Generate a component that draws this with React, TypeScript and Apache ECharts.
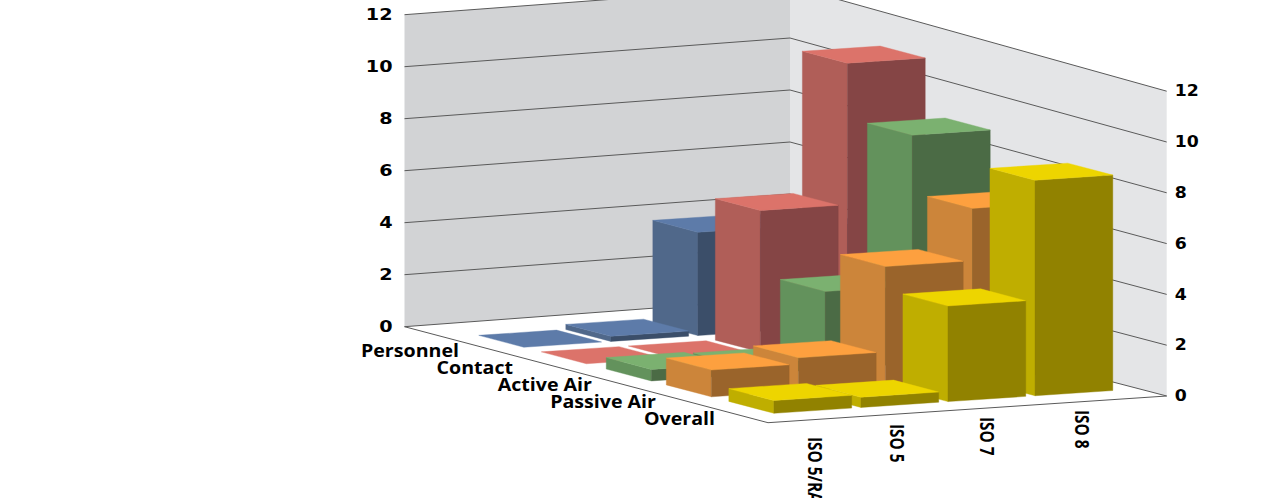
import React, { useEffect, useRef } from "react";
import * as echarts from "echarts";

// Chart content
const categories = ["ISO 5/RA", "ISO 5", "ISO 7", "ISO 8"];
const seriesNames = ["Personnel", "Contact", "Active Air", "Passive Air", "Overall"];
const personnel = [0, 0.2, 4.05, 4];
const contact = [0, 0, 5.55, 11.1];
const activeAir = [0.45, 0.4, 3.05, 8.95];
const passiveAir = [1.05, 1.3, 4.65, 6.7];
const overall = [0.5, 0.4, 3.75, 8.45];
const seriesValues = [personnel, contact, activeAir, passiveAir, overall];
const tickValues = [0, 2, 4, 6, 8, 10, 12];

// Face colours per series: top, left side, front side
const palette = [
  ["#5D7BA9", "#50688A", "#3B4E69"],
  ["#DC736A", "#B05E58", "#854545"],
  ["#7BB170", "#63925C", "#4B6B45"],
  ["#FDA03F", "#CC853A", "#9A642B"],
  ["#EDD500", "#BFAE00", "#918200"],
];

// Oblique projection of the floor plane
const origin = [404.5, 326.7];
const catAxis = [99.7, -6.7];
const rowAxis = [72.7, 19.2];
const unitHeight = 25.5;
const catStart = 0.332;
const catStep = 0.873;
const rowDepths = [1.186, 2.046, 2.94, 3.766, 4.626];
const barWidth = 0.78;
const barDepth = 0.62;

const project = (u: number, d: number, h: number) => [
  origin[0] + u * catAxis[0] + d * rowAxis[0],
  origin[1] + u * catAxis[1] + d * rowAxis[1] - h * unitHeight,
];

// Room corners: left, back, front, right, with the pixel height of one value unit
const cornerLeft = { x: 404.5, y: 326.7, unit: 26 };
const cornerBack = { x: 790, y: 298, unit: 26 };
const cornerFront = { x: 768, y: 422.7 };
const cornerRight = { x: 1166.7, y: 396, unit: 25.4 };

const at = (c: { x: number; y: number; unit: number }, v: number) => [c.x, c.y - v * c.unit];

const seriesLabelPos = [
  [459, 350],
  [513, 367],
  [592, 384],
  [656, 401.5],
  [715, 418],
];
const categoryLabelPos = [
  [815, 437],
  [897, 424],
  [987, 417],
  [1082, 410],
];

const tickFont = 'bold 16px "DejaVu Sans"';
const seriesFont = 'bold 18px "Open Sans"';
const categoryFont = 'bold 19px "Open Sans"';

function roomGraphics() {
  const top = 12;
  const els: any[] = [
    {
      type: "polygon",
      z: 0,
      shape: { points: [at(cornerLeft, 0), at(cornerBack, 0), at(cornerBack, top), at(cornerLeft, top)] },
      style: { fill: "#D2D3D5" },
    },
    {
      type: "polygon",
      z: 0,
      shape: { points: [at(cornerBack, 0), at(cornerRight, 0), at(cornerRight, top), at(cornerBack, top)] },
      style: { fill: "#E4E5E7" },
    },
  ];
  const lineStyle = { stroke: "#5A5A5A", lineWidth: 1, fill: "none" };
  tickValues.forEach((v) => {
    els.push({
      type: "polyline",
      z: 1,
      shape: { points: [at(cornerLeft, v), at(cornerBack, v), at(cornerRight, v)] },
      style: lineStyle,
    });
    const [lx, ly] = at(cornerLeft, v);
    els.push({
      type: "text",
      z: 3,
      x: lx - 12,
      y: ly,
      scaleX: 1.2,
      style: { text: String(v), font: tickFont, fill: "#000", textAlign: "right", textVerticalAlign: "middle" },
    });
    const [rx, ry] = at(cornerRight, v);
    els.push({
      type: "text",
      z: 3,
      x: rx + 8,
      y: ry,
      scaleX: 1.08,
      style: { text: String(v), font: tickFont, fill: "#000", textAlign: "left", textVerticalAlign: "middle" },
    });
  });
  els.push({
    type: "polyline",
    z: 1,
    shape: {
      points: [
        [cornerLeft.x, cornerLeft.y],
        [cornerFront.x, cornerFront.y],
        [cornerRight.x, cornerRight.y],
      ],
    },
    style: lineStyle,
  });
  seriesNames.forEach((name, i) => {
    els.push({
      type: "text",
      z: 3,
      x: seriesLabelPos[i][0],
      y: seriesLabelPos[i][1],
      scaleX: 1.09,
      style: { text: name, font: seriesFont, fill: "#000", textAlign: "right", textVerticalAlign: "middle" },
    });
  });
  categories.forEach((name, i) => {
    els.push({
      type: "text",
      z: 3,
      x: categoryLabelPos[i][0],
      y: categoryLabelPos[i][1],
      rotation: -Math.PI / 2,
      scaleX: 0.81,
      style: { text: name, font: categoryFont, fill: "#000", textAlign: "left", textVerticalAlign: "middle" },
    });
  });
  return els;
}

// One box: nearer categories get a higher z2 because the view comes from the low-category side
function renderBar(rowIndex: number) {
  return (_params: any, api: any) => {
    const cat = api.value(0) as number;
    const value = api.value(1) as number;
    const u = catStart + cat * catStep;
    const d = rowDepths[rowIndex];
    const colors = palette[rowIndex];
    const corners = (h: number) => ({
      front: project(u, d, h),
      left: project(u, d - barDepth, h),
      right: project(u + barWidth, d, h),
      back: project(u + barWidth, d - barDepth, h),
    });
    const base = corners(0);
    const top = corners(value);
    const z2 = 10 - cat;
    const face = (points: number[][], fill: string) => ({
      type: "polygon",
      z2,
      shape: { points },
      style: { fill, stroke: fill, lineWidth: 0.4 },
    });
    const children: any[] = [];
    if (value > 0) {
      children.push(face([base.left, base.front, top.front, top.left], colors[1]));
      children.push(face([base.front, base.right, top.right, top.front], colors[2]));
    }
    children.push(face([top.left, top.front, top.right, top.back], colors[0]));
    return { type: "group", children };
  };
}

export default function App() {
  const ref = useRef<HTMLDivElement>(null);
  useEffect(() => {
    document.body.style.margin = "0";
    document.body.style.overflow = "hidden";
    const chart = echarts.init(ref.current!, undefined, { renderer: "svg" });
    chart.setOption({
      animation: false,
      backgroundColor: "#FFFFFF",
      graphic: { elements: roomGraphics() },
      series: seriesNames.map((name, r) => ({
        type: "custom",
        name,
        coordinateSystem: "none",
        z: 5 + r,
        silent: true,
        renderItem: renderBar(r),
        data: seriesValues[r].map((v, i) => [i, v]),
      })),
    });
    return () => chart.dispose();
  }, []);
  return <div ref={ref} style={{ width: 1263, height: 498 }} />;
}
